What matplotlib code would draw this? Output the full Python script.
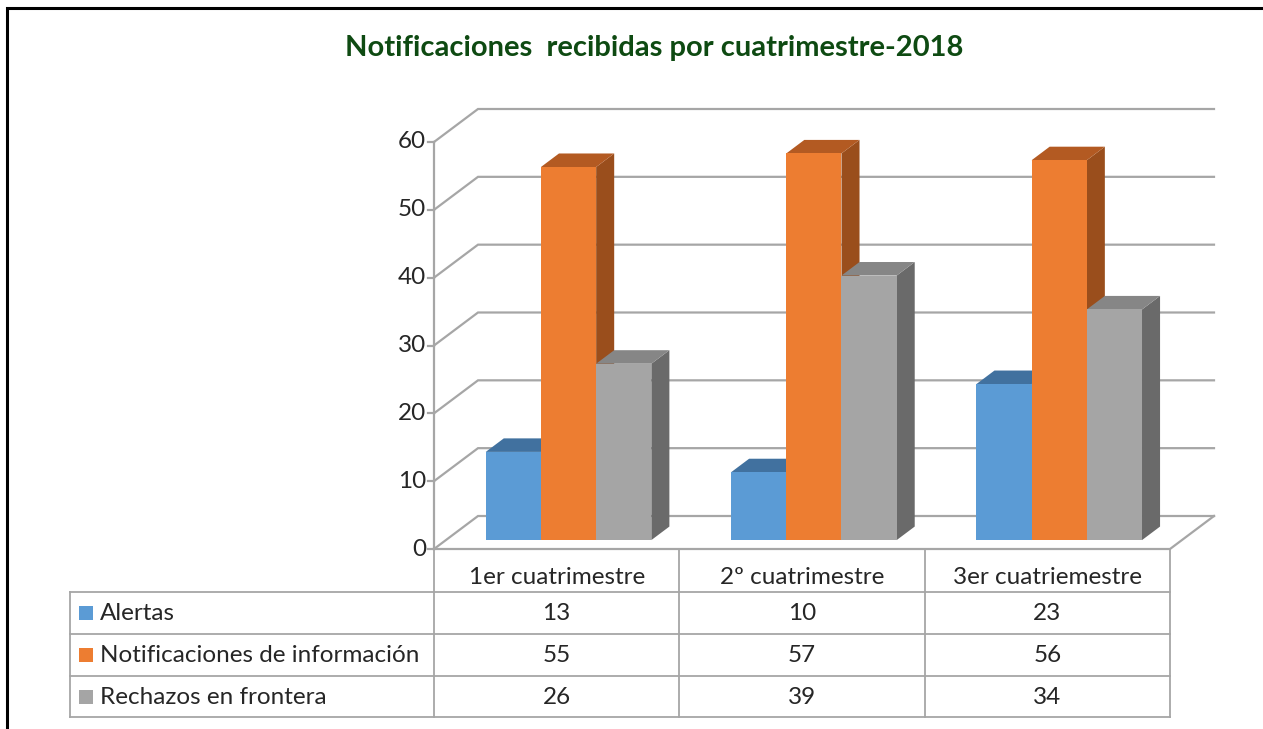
import matplotlib

matplotlib.use("Agg")

import matplotlib.pyplot as plt
import matplotlib.transforms as mtransforms
import numpy as np
from matplotlib.lines import Line2D
from matplotlib.patches import Polygon, Rectangle

W, H = 1263, 729

categories = ["1er cuatrimestre", "2º cuatrimestre", "3er cuatriemestre"]
series_names = ["Alertas", "Notificaciones de información", "Rechazos en frontera"]
alertas = [13, 10, 23]
notificaciones = [55, 57, 56]
rechazos = [26, 39, 34]
y_ticks = [0, 10, 20, 30, 40, 50, 60]

front_colors = ["#5B9BD5", "#ED7D31", "#A5A5A5"]
top_colors = ["#41719F", "#B35A22", "#868686"]
side_colors = ["#3A6792", "#9A4E1C", "#6A6A6A"]
grid_color = "#A6A6A6"
text_color = "#262626"

# 3d look: back wall offset in pixels (display y up)
DX, DY = 44, 33
BAR_D0, BAR_D1 = 0.27, 0.68
BAR_W = 0.225

plt.rcParams["font.family"] = ["Lato", "DejaVu Sans"]

fig = plt.figure(figsize=(W / 100, H / 100), dpi=100)
fig.patch.set_facecolor("white")


def fx(p):
    return p / W


def fy(p):
    return 1 - p / H


ax = fig.add_axes([fx(434), fy(549), fx(1170) - fx(434), fy(142) - fy(549)])
ax.set_xlim(0, 3)
ax.set_ylim(0, 60)
ax.axis("off")

ident = mtransforms.IdentityTransform()


def proj(x, v, d):
    p = ax.transData.transform((x, v))
    return p + d * np.array([DX, DY])


def poly(pts, color, z):
    ax.add_patch(Polygon(pts, closed=True, facecolor=color, edgecolor="none",
                         transform=ident, clip_on=False, zorder=z))


def seg(pts, z=1, color=grid_color, lw=1.6):
    pts = np.array(pts)
    ax.add_line(Line2D(pts[:, 0], pts[:, 1], color=color, lw=lw, transform=ident,
                       clip_on=False, zorder=z, solid_joinstyle="miter"))


# walls / gridlines
for v in y_ticks:
    seg([proj(0, v, 0), proj(0, v, 1), proj(3, v, 1)])
    a = proj(0, v, 0)
    seg([a, a - np.array([6, 0])])
    ax.text(a[0] - 8, a[1], str(v), transform=ident, ha="right", va="center",
            fontsize=17.5, color=text_color)
seg([proj(0, 0, 0), proj(0, 60, 0)])
seg([proj(0, 0, 0), proj(3, 0, 0), proj(3, 0, 1)])

# bars
values = [alertas, notificaciones, rechazos]
z = 3
for i in range(len(categories)):
    for j in range(len(series_names)):
        x0 = i + 0.5 - 1.5 * BAR_W + j * BAR_W
        x1 = x0 + BAR_W
        v = values[j][i]
        side = [proj(x1, 0, BAR_D0), proj(x1, 0, BAR_D1), proj(x1, v, BAR_D1), proj(x1, v, BAR_D0)]
        top = [proj(x0, v, BAR_D0), proj(x1, v, BAR_D0), proj(x1, v, BAR_D1), proj(x0, v, BAR_D1)]
        front = [proj(x0, 0, BAR_D0), proj(x1, 0, BAR_D0), proj(x1, v, BAR_D0), proj(x0, v, BAR_D0)]
        poly(side, side_colors[j], z)
        poly(top, top_colors[j], z + 0.1)
        poly(front, front_colors[j], z + 0.2)
        z += 1

# data table
bt = mtransforms.blended_transform_factory(ax.transData, fig.transFigure)
row_lines = [592, 634, 676, 717]
row_centers = [613, 655, 697]
tline = dict(color=grid_color, lw=1.3, clip_on=False)
for x in range(4):
    fig.add_artist(Line2D([x, x], [fy(549), fy(717)], transform=bt, **tline))
for yl in row_lines:
    fig.add_artist(Line2D([fx(70), fx(1170)], [fy(yl), fy(yl)], transform=fig.transFigure, **tline))
fig.add_artist(Line2D([fx(70), fx(70)], [fy(592), fy(717)], transform=fig.transFigure, **tline))

for i, cat in enumerate(categories):
    fig.text(i + 0.5, fy(577), cat, transform=bt, ha="center", va="center",
             fontsize=17.5, color=text_color)
    for j in range(len(series_names)):
        fig.text(i + 0.5, fy(row_centers[j]), str(values[j][i]), transform=bt,
                 ha="center", va="center", fontsize=17.5, color=text_color)

for j, name in enumerate(series_names):
    yc = row_centers[j]
    fig.add_artist(Rectangle((fx(79), fy(yc + 7)), fx(14), 14 / H, transform=fig.transFigure,
                             facecolor=front_colors[j], edgecolor="none"))
    fig.text(fx(100), fy(yc), name, ha="left", va="center", fontsize=17.5, color=text_color)

# title and frame
fig.text(fx(654), fy(48), "Notificaciones  recibidas por cuatrimestre-2018", ha="center",
         va="center", fontsize=21, fontweight="bold", color="#0E4A12")
fig.add_artist(Line2D([fx(7), fx(7), 1], [0, fy(8), fy(8)], transform=fig.transFigure,
                      color="black", lw=2.2, solid_joinstyle="miter"))

fig.savefig("out.png", dpi=100, facecolor="white")
